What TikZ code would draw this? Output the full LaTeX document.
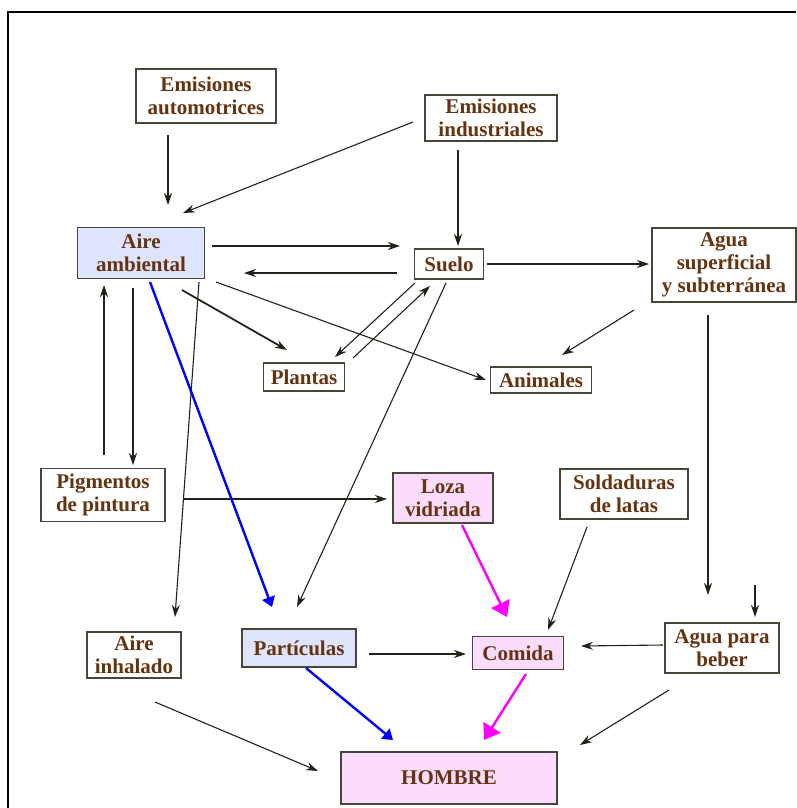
\documentclass[tikz,border=0pt]{standalone}
\usepackage{fontspec}
\setmainfont{Liberation Serif}
\usetikzlibrary{arrows.meta}
\definecolor{texto}{RGB}{102,51,17}
\definecolor{borde}{RGB}{72,70,56}
\definecolor{linea}{RGB}{34,34,26}
\definecolor{azul}{RGB}{221,228,252}
\definecolor{rosa}{RGB}{252,220,252}
\definecolor{fucsia}{RGB}{255,0,255}
\tikzset{
  caja/.style={draw=borde, line width=1.5pt, fill=white, text=texto,
    font=\bfseries\fontsize{21}{23}\selectfont, align=center, inner sep=0pt},
  cajaazul/.style={caja, fill=azul},
  cajarosa/.style={caja, fill=rosa},
  flecha/.style={draw=linea, line width=1.1pt, -{Stealth[length=12pt,width=8pt]}},
  flechaazul/.style={draw=blue, line width=2.4pt, -{Triangle[length=10pt,width=13pt]}},
  flecharosa/.style={draw=fucsia, line width=2.4pt, -{Triangle[length=15pt,width=20pt]}}
}
\begin{document}
\begin{tikzpicture}[x=1pt,y=-1pt]
  \useasboundingbox (0,0) rectangle (796,808);
  \draw [line width=1.5pt] (8,808) -- (8,12) -- (796,12);
  % sources
  \node [caja, minimum width=140, minimum height=54] (auto) at (206,96) {Emisiones\\automotrices};
  \node [caja, minimum width=132, minimum height=46] (indus) at (491,118) {Emisiones\\industriales};
  % environment
  \node [cajaazul, minimum width=127, minimum height=51] (aire) at (141,253) {Aire\\ambiental};
  \node [caja, minimum width=69, minimum height=30] (suelo) at (449,264) {Suelo};
  \node [caja, minimum width=144, minimum height=74] (agua) at (724,265) {Agua\\superficial\\y subterránea};
  \node [caja, minimum width=81, minimum height=28] (plantas) at (304,377) {Plantas};
  \node [caja, minimum width=101, minimum height=26] (animales) at (541,380) {Animales};
  \node [caja, minimum width=124, minimum height=53] (pigm) at (103,495) {Pigmentos\\de pintura};
  \node [cajarosa, minimum width=100, minimum height=50] (loza) at (443,498) {Loza\\vidriada};
  \node [caja, minimum width=128, minimum height=50] (solda) at (624,494) {Soldaduras\\de latas};
  % exposure
  \node [caja, minimum width=94, minimum height=46] (inhal) at (134,655) {Aire\\inhalado};
  \node [cajaazul, minimum width=114, minimum height=38] (partic) at (299,648) {Partículas};
  \node [cajarosa, minimum width=91, minimum height=33] (comida) at (518,653) {Comida};
  \node [caja, minimum width=114, minimum height=50] (beber) at (722,648) {Agua para\\beber};
  \node [cajarosa, minimum width=216, minimum height=52] (hombre) at (449,778) {HOMBRE};
  \coordinate (lluvia) at (755,585);
  % black connectors
  \draw [flecha] ([shift={(-38,39)}]auto.center) -- ([shift={(27,-48)}]aire.center);
  \draw [flecha] ([shift={(-78,4)}]indus.center) -- ([shift={(42,-40)}]aire.center);
  \draw [flecha] ([shift={(-33,32)}]indus.center) -- ([shift={(9,-18)}]suelo.center);
  \draw [flecha] ([shift={(71,-7)}]aire.center) -- ([shift={(-49,-18)}]suelo.center);
  \draw [flecha] ([shift={(-52,9)}]suelo.center) -- ([shift={(103,20)}]aire.center);
  \draw [flecha] ([shift={(38,0)}]suelo.center) -- ([shift={(-75,-1)}]agua.center);
  \draw [flecha, line width=1.8pt] ([shift={(41,37)}]aire.center) -- ([shift={(-17,-27)}]plantas.center);
  \draw [flecha] ([shift={(75,29)}]aire.center) -- ([shift={(-55,0)}]animales.center);
  \draw [flecha] ([shift={(-34,19)}]suelo.center) -- ([shift={(31,-20)}]plantas.center);
  \draw [flecha] ([shift={(49,-19)}]plantas.center) -- ([shift={(-19,22)}]suelo.center);
  \draw [flecha] ([shift={(-3,19)}]suelo.center) -- ([shift={(-2,-41)}]partic.center);
  \draw [flecha] ([shift={(-90,45)}]agua.center) -- ([shift={(21,-25)}]animales.center);
  \draw [flecha] ([shift={(-16,50)}]agua.center) -- ([shift={(-14,-53)}]beber.center);
  \draw [flecha] (lluvia) -- ([shift={(33,-31)}]beber.center);
  \draw [flecha] ([shift={(1,-40)}]pigm.center) -- ([shift={(-37,32)}]aire.center);
  \draw [flecha] ([shift={(-8,35)}]aire.center) -- ([shift={(30,-30)}]pigm.center);
  \draw [flecha] ([shift={(58,29)}]aire.center) -- ([shift={(41,-38)}]inhal.center);
  \draw [flecha] ([shift={(80,4)}]pigm.center) -- ([shift={(-56,1)}]loza.center);
  \draw [flecha] ([shift={(-37,33)}]solda.center) -- ([shift={(30,-23)}]comida.center);
  \draw [flecha] ([shift={(70,6)}]partic.center) -- ([shift={(-52,1)}]comida.center);
  \draw [flecha] ([shift={(-59,-3)}]beber.center) -- ([shift={(63,-7)}]comida.center);
  \draw [flecha] ([shift={(21,47)}]inhal.center) -- ([shift={(-131,-7)}]hombre.center);
  \draw [flecha] ([shift={(-53,42)}]beber.center) -- ([shift={(131,-33)}]hombre.center);
  % coloured connectors
  \draw [flechaazul] ([shift={(9,29)}]aire.center) -- ([shift={(-27,-41)}]partic.center);
  \draw [flechaazul] ([shift={(7,20)}]partic.center) -- ([shift={(-56,-38)}]hombre.center);
  \draw [flecharosa] ([shift={(19,27)}]loza.center) -- ([shift={(-11,-36)}]comida.center);
  \draw [flecharosa] ([shift={(8,21)}]comida.center) -- ([shift={(35,-38)}]hombre.center);
\end{tikzpicture}
\end{document}
